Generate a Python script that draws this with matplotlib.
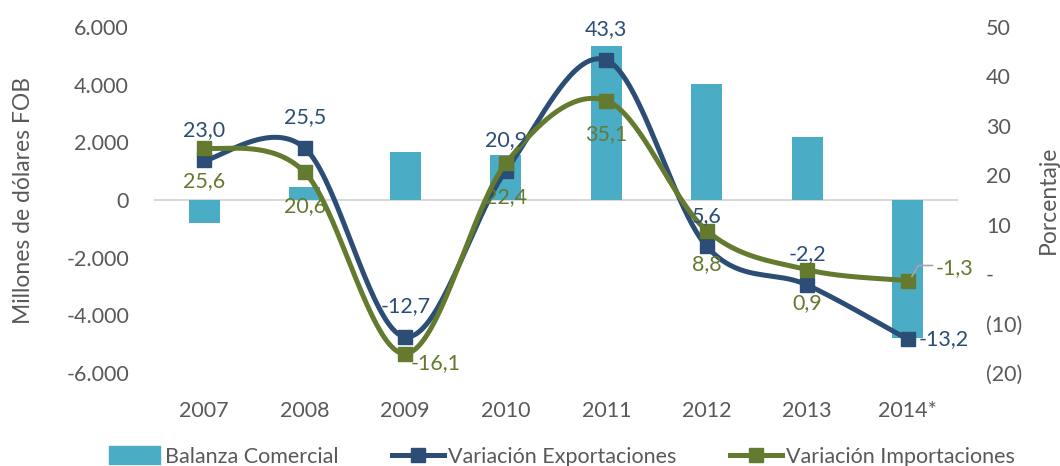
import numpy as np
import matplotlib.pyplot as plt
from matplotlib.patches import Patch
from matplotlib.lines import Line2D

plt.rcParams['font.family'] = ['Lato', 'DejaVu Sans']

# Datos
anios = ['2007', '2008', '2009', '2010', '2011', '2012', '2013', '2014*']
balanza = [-800, 450, 1670, 1560, 5350, 4030, 2190, -4790]
var_export = [23.0, 25.5, -12.7, 20.9, 43.3, 5.6, -2.2, -13.2]
var_import = [25.6, 20.6, -16.1, 22.4, 35.1, 8.8, 0.9, -1.3]
etiq_export = ['23,0', '25,5', '-12,7', '20,9', '43,3', '5,6', '-2,2', '-13,2']
etiq_import = ['25,6', '20,6', '-16,1', '22,4', '35,1', '8,8', '0,9', '-1,3']
ticks_izq = [-6000, -4000, -2000, 0, 2000, 4000, 6000]
etiq_izq = ['-6.000', '-4.000', '-2.000', '0', '2.000', '4.000', '6.000']
ticks_der = [-20, -10, 0, 10, 20, 30, 40, 50]
etiq_der = ['(20)', '(10)', '-', '10', '20', '30', '40', '50']

c_barra = '#4BACC6'
c_exp = '#2C4D75'
c_imp = '#647A2F'
c_txt = '#595959'


def suavizar(x, y, n=40):
    # curva tipo Catmull-Rom, parecida al suavizado de Excel
    x = np.asarray(x, float)
    y = np.asarray(y, float)
    px = np.concatenate([[x[0]], x, [x[-1]]])
    py = np.concatenate([[y[0]], y, [y[-1]]])
    xs, ys = [], []
    t = np.linspace(0, 1, n)
    for i in range(1, len(px) - 2):
        for p, out in ((px, xs), (py, ys)):
            p0, p1, p2, p3 = p[i - 1], p[i], p[i + 1], p[i + 2]
            out.append(0.5 * ((2 * p1) + (-p0 + p2) * t
                              + (2 * p0 - 5 * p1 + 4 * p2 - p3) * t ** 2
                              + (-p0 + 3 * p1 - 3 * p2 + p3) * t ** 3))
    return np.concatenate(xs), np.concatenate(ys)


fig = plt.figure(figsize=(10.6, 4.66), dpi=100)
ax = fig.add_axes([0.1453, 0.1996, 0.7585, 0.7424])
ax2 = ax.twinx()

x = np.arange(len(anios))
ax.bar(x, balanza, width=0.31, color=c_barra, zorder=2)
ax.axhline(0, color='#D9D9D9', lw=1.5, zorder=1)
ax.set_xlim(-0.5, len(anios) - 0.5)
ax.set_ylim(-6000, 6000)
ax.set_yticks(ticks_izq)
ax.set_yticklabels(etiq_izq)
ax.set_xticks(x)
ax.set_xticklabels(anios)
ax.tick_params(axis='both', length=0, labelsize=15.5, colors=c_txt)
ax.tick_params(axis='x', pad=20)
ax.tick_params(axis='y', pad=18)
ax.set_ylabel('Millones de dólares FOB', fontsize=16.5, color=c_txt)
ax.yaxis.set_label_coords(-0.149, 0.5)

ax2.set_ylim(-20, 50)
ax2.set_yticks(ticks_der)
ax2.set_yticklabels(etiq_der)
ax2.tick_params(axis='y', length=0, labelsize=15.5, colors=c_txt, pad=20)
ax2.set_ylabel('Porcentaje', fontsize=16.5, color=c_txt)
ax2.yaxis.set_label_coords(1.0995, 0.5)

for a in (ax, ax2):
    for s in a.spines.values():
        s.set_visible(False)

sx, sy = suavizar(x, var_export)
ax2.plot(sx, sy, color=c_exp, lw=3.6, solid_capstyle='round', zorder=3)
ax2.plot(x, var_export, 's', color=c_exp, ms=10, zorder=4)
sx, sy = suavizar(x, var_import)
ax2.plot(sx, sy, color=c_imp, lw=3.6, solid_capstyle='round', zorder=5)
ax2.plot(x, var_import, 's', color=c_imp, ms=10, zorder=6)

# etiquetas de datos
for i in range(len(anios)):
    if i == len(anios) - 1:
        ax2.annotate(etiq_export[i], (x[i], var_export[i]), xytext=(8, 0),
                     textcoords='offset points', ha='left', va='center',
                     fontsize=15.5, color=c_exp, zorder=7)
    else:
        ax2.annotate(etiq_export[i], (x[i], var_export[i]), xytext=(0, 22),
                     textcoords='offset points', ha='center', va='center',
                     fontsize=15.5, color=c_exp, zorder=7)
    if i == 2:
        ax2.annotate(etiq_import[i], (x[i], var_import[i]), xytext=(22, -7),
                     textcoords='offset points', ha='center', va='center',
                     fontsize=15.5, color=c_imp, zorder=7)
    elif i == len(anios) - 1:
        ax2.annotate(etiq_import[i], (x[i], var_import[i]), xytext=(34, 9),
                     textcoords='offset points', ha='center', va='center',
                     fontsize=15.5, color=c_imp, zorder=7)
        ax2.annotate('', (x[i] + 0.04, var_import[i] + 0.8), xytext=(15, 8),
                     textcoords='offset points',
                     arrowprops=dict(arrowstyle='-', color='#A6A6A6', lw=1.2,
                                     shrinkA=0, shrinkB=0,
                                     connectionstyle='angle,angleA=0,angleB=60,rad=0'),
                     zorder=8)
    else:
        ax2.annotate(etiq_import[i], (x[i], var_import[i]), xytext=(0, -24),
                     textcoords='offset points', ha='center', va='center',
                     fontsize=15.5, color=c_imp, zorder=7)

handles = [
    Patch(color=c_barra),
    Line2D([], [], color=c_exp, lw=3.6, marker='s', ms=10),
    Line2D([], [], color=c_imp, lw=3.6, marker='s', ms=10),
]
labels = ['Balanza Comercial', 'Variación Exportaciones', 'Variación Importaciones']
leg = fig.legend(handles, labels, loc='center', bbox_to_anchor=(0.530, 0.02),
                 ncol=3, frameon=False, fontsize=15.5, handlelength=2.4,
                 handleheight=0.9, columnspacing=2.5, handletextpad=0.2)
for t in leg.get_texts():
    t.set_color(c_txt)

fig.savefig('out.png', dpi=100)
